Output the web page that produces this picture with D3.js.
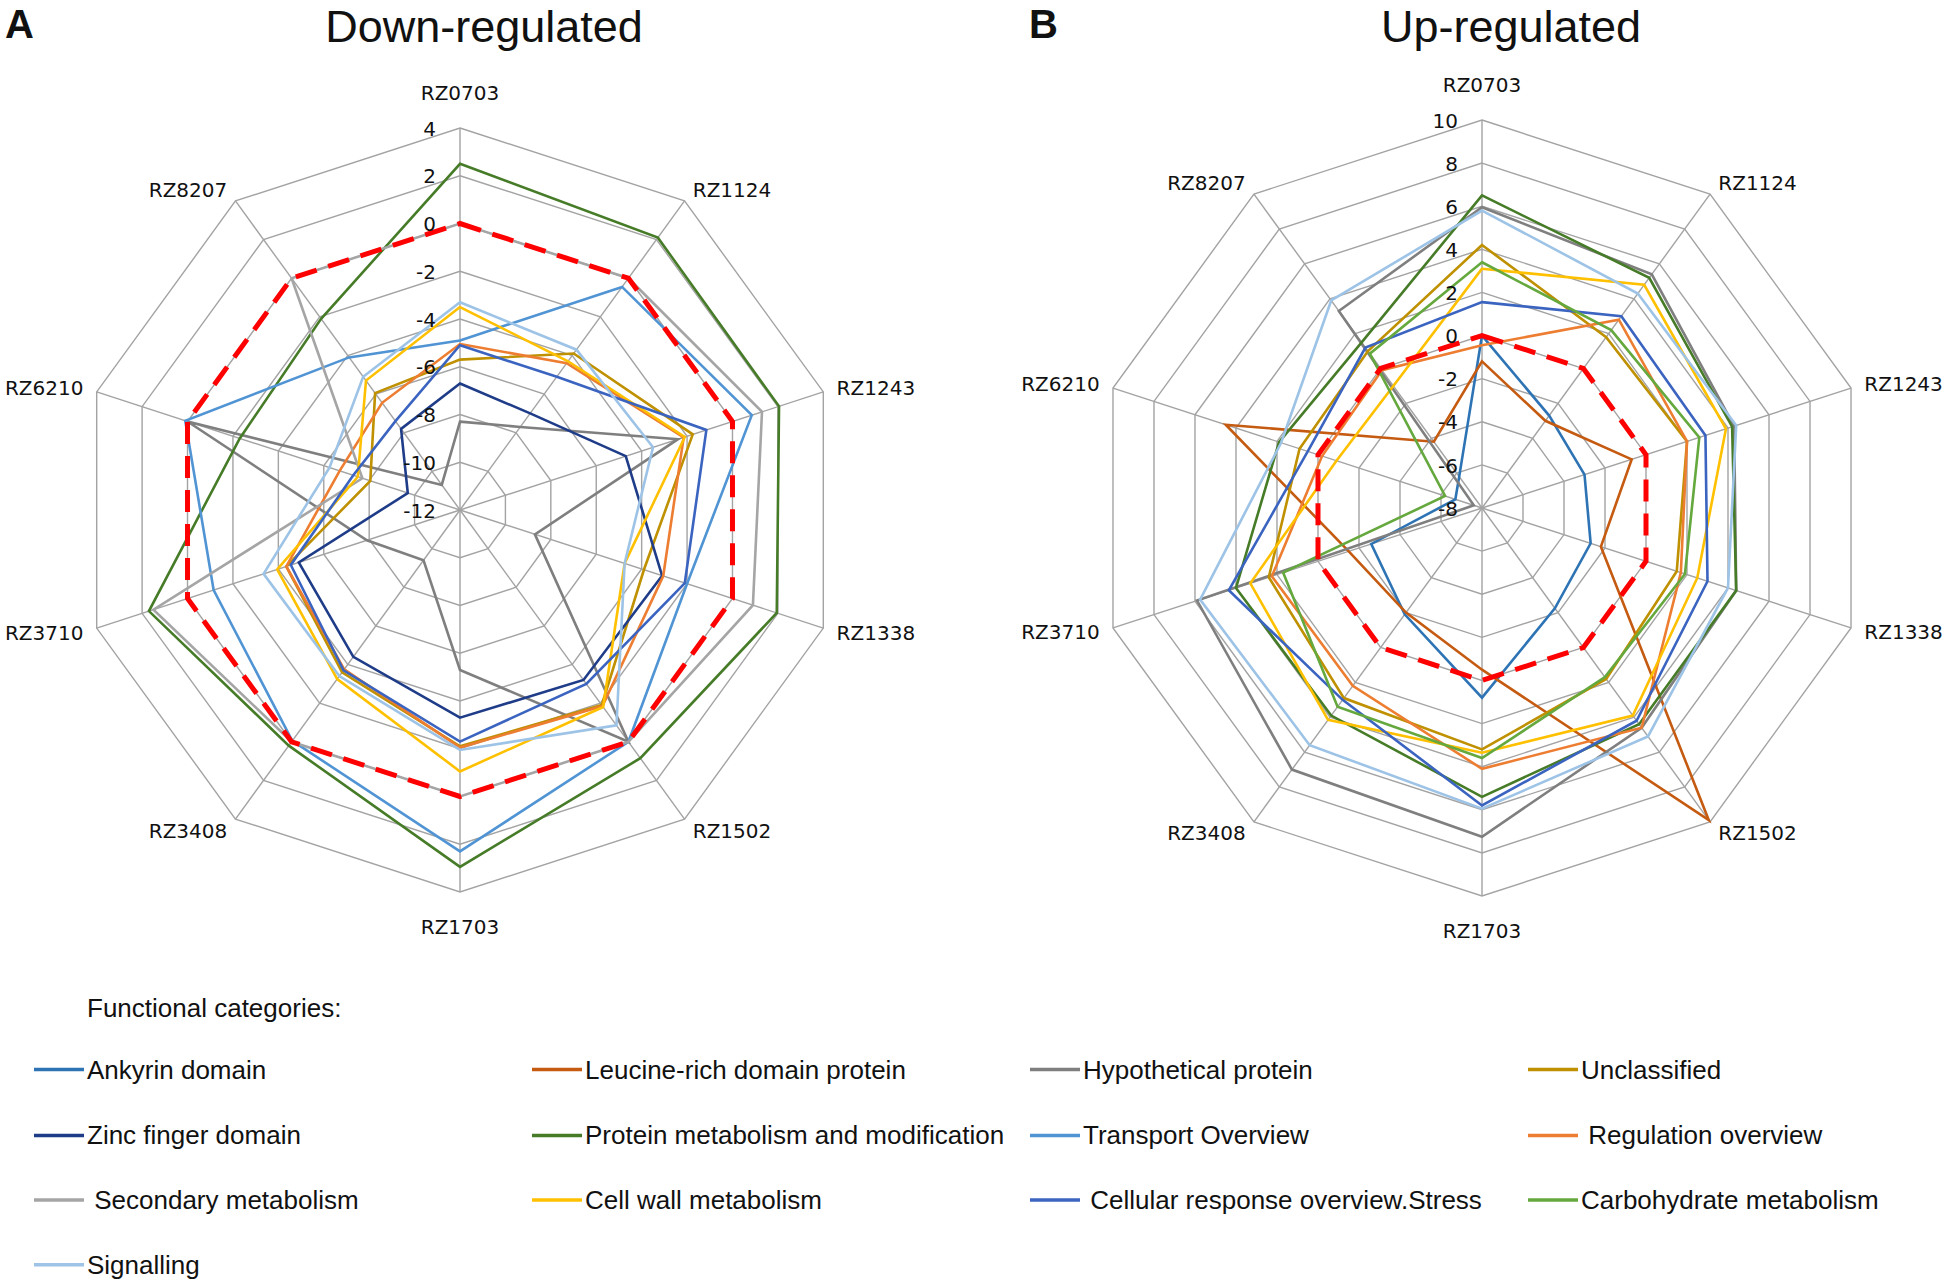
<!DOCTYPE html>
<html><head><meta charset="utf-8">
<script src="https://cdn.jsdelivr.net/npm/d3@7"></script>
<style>
body{margin:0;background:#fff;}
svg text{font-family:"Liberation Sans",Arial,sans-serif;fill:#111;}
.ax text{font-family:"DejaVu Sans",sans-serif;}
</style>
</head><body>
<svg id="chart" width="1950" height="1282"></svg>
<script>
// ---------- DATA ----------
const axesLabels = ["RZ0703","RZ1124","RZ1243","RZ1338","RZ1502","RZ1703","RZ3408","RZ3710","RZ6210","RZ8207"];
const categories = ["Ankyrin domain","Leucine-rich domain protein","Hypothetical protein","Unclassified",
  "Zinc finger domain","Protein metabolism and modification","Transport Overview"," Regulation overview",
  " Secondary metabolism","Cell wall metabolism"," Cellular response overview.Stress","Carbohydrate metabolism","Signalling"];
const colors = ["#2E74B5","#C55A11","#7F7F7F","#BF9000","#1F3C88","#467B27","#5094D4","#ED7D31",
  "#A5A5A5","#FFC000","#3B64C0","#65A83E","#9DC3E6"];
const downTicks = [-12,-10,-8,-6,-4,-2,0,2,4];
const upTicks = [-8,-6,-4,-2,0,2,4,6,8,10];

// Down-regulated (panel A)
const downAnkyrin      = null;
const downLeucine      = null;
const downHypothetical = [-8.3,-7.7,-2.4,-8.7,0,-5.3,-9.4,-7.9,0,-10.7];
const downUnclassified = [-5.7,-3.9,-1.75,-3.9,-1.9,-2.1,-3.6,-4.35,-8.05,-5.95];
const downZinc         = [-6.7,-7.0,-4.7,-3.1,-3.2,-3.3,-4.4,-4.9,-9.7,-7.8];
const downProtein      = [2.5,2.1,2.05,1.95,0.85,2.95,0.2,1.7,-2.3,-2.1];
const downTransport    = [-4.9,-0.45,0.85,-2.0,0.0,2.3,-0.05,-1.15,0.1,-4.1];
const downRegulation   = [-5.05,-4.4,-2.15,-3.05,-1.85,-2.05,-3.75,-4.35,-6.7,-6.45];
const downSecondary    = [0,0,1.3,0.9,0,0,0,1.5,-7.7,0];
const downCellWall     = [-3.5,-4.3,-2.1,-4.75,-1.8,-1.05,-3.25,-3.95,-7.5,-5.3];
const downCellular     = [-5.1,-5.1,-1.15,-2.1,-3.0,-2.3,-3.7,-4.55,-7.3,-7.4];
const downCarbohydrate = null;
const downSignalling   = [-3.3,-3.7,-3.5,-4.75,-0.85,-1.95,-3.4,-3.35,-6.25,-5.1];
const downZero         = [0,0,0,0,0,0,0,0,0,0];

// Up-regulated (panel B)
const upAnkyrin      = [0.0,-2.7,-3.0,-2.7,-2.25,0.8,-1.9,-2.6,-6.7,-6.2];
const upLeucine      = [-1.2,-3.0,-0.7,-2.2,9.9,-0.5,-2.0,-1.5,4.5,-4.2];
const upHypothetical = [5.95,5.4,4.3,4.4,4.6,7.25,7.0,5.9,-7.6,3.3];
const upUnclassified = [4.2,1.8,2.0,1.5,1.8,3.2,2.9,2.4,0.9,1.0];
const upZinc         = null;
const upProtein      = [6.5,5.2,4.2,4.4,4.4,5.4,3.9,4.0,1.9,1.5];
const upTransport    = null;
const upRegulation   = [-0.45,2.8,2.0,1.7,4.6,4.1,2.2,2.25,-0.2,-0.1];
const upSecondary    = null;
const upCellWall     = [3.1,4.8,3.9,2.5,3.9,3.35,4.15,3.3,-0.9,-1.0];
const upCellular     = [1.55,3.0,2.9,3.0,4.2,5.8,3.0,4.35,0.5,1.2];
const upCarbohydrate = [3.4,2.2,2.6,1.9,1.7,3.6,3.4,1.7,-6.2,0.85];
const upSignalling   = [5.8,4.3,4.4,4.0,5.1,5.95,5.6,5.75,1.8,3.9];
const upZero         = [0,0,0,0,0,0,0,0,0,0];

const downSeries = [downAnkyrin,downLeucine,downHypothetical,downUnclassified,downZinc,downProtein,
  downTransport,downRegulation,downSecondary,downCellWall,downCellular,downCarbohydrate,downSignalling];
const upSeries = [upAnkyrin,upLeucine,upHypothetical,upUnclassified,upZinc,upProtein,
  upTransport,upRegulation,upSecondary,upCellWall,upCellular,upCarbohydrate,upSignalling];

// ---------- DRAW ----------
const svg = d3.select("#chart");
svg.append("rect").attr("width",1950).attr("height",1282).attr("fill","#fff");

function radar(cfg){
  const g = svg.append("g").attr("class","ax").attr("transform",`translate(${cfg.cx},${cfg.cy})`);
  const n = axesLabels.length;
  const ang = d3.scaleLinear().domain([0,n]).range([0,2*Math.PI]);
  const r = d3.scaleLinear().domain(d3.extent(cfg.ticks)).range([0,cfg.R]);
  const pt = (i,v)=>[Math.sin(ang(i))*r(v), -Math.cos(ang(i))*r(v)];
  // rings
  cfg.ticks.forEach(t=>{
    g.append("path").attr("d", d3.line()(d3.range(n).map(i=>pt(i,t)))+"Z")
      .attr("fill","none").attr("stroke","#a3a3a3").attr("stroke-width",1.4);
  });
  // spokes
  const tmax = d3.max(cfg.ticks);
  d3.range(n).forEach(i=>{
    const [x,y]=pt(i,tmax);
    g.append("line").attr("x1",0).attr("y1",0).attr("x2",x).attr("y2",y)
      .attr("stroke","#a3a3a3").attr("stroke-width",1.4);
  });
  // series
  const line = d3.lineRadial().angle((d,i)=>ang(i)).radius(d=>r(d)).curve(d3.curveLinearClosed);
  cfg.series.forEach((s,k)=>{
    if(!s) return;
    g.append("path").attr("d",line(s)).attr("fill","none")
      .attr("stroke",colors[k]).attr("stroke-width",2.6).attr("stroke-linejoin","miter");
  });
  g.append("path").attr("d",line(cfg.zero)).attr("fill","none")
    .attr("stroke","#ff0000").attr("stroke-width",5).attr("stroke-dasharray","22,12");
  // tick labels
  cfg.ticks.forEach(t=>{
    g.append("text").attr("x",-24).attr("y",-r(t)).attr("dy","0.38em")
      .attr("text-anchor","end").attr("font-size",20).text(t);
  });
  // axis labels
  axesLabels.forEach((lab,i)=>{
    const a = ang(i), s=Math.sin(a), c=Math.cos(a);
    const vert = Math.abs(s)<0.1;
    const d = vert ? 35 : 14;
    g.append("text").attr("x",s*(cfg.R+d)).attr("y",-c*(cfg.R+d)).attr("dy","0.36em")
      .attr("text-anchor", vert?"middle":(s>0?"start":"end"))
      .attr("font-size",20).text(lab);
  });
}

radar({cx:460, cy:510, R:382, ticks:downTicks, series:downSeries, zero:downZero});
radar({cx:1482, cy:508, R:388, ticks:upTicks, series:upSeries, zero:upZero});

// titles
svg.append("text").attr("x",484).attr("y",42).attr("text-anchor","middle").attr("font-size",45).text("Down-regulated");
svg.append("text").attr("x",1511).attr("y",42).attr("text-anchor","middle").attr("font-size",45).text("Up-regulated");
svg.append("text").attr("x",5).attr("y",38).attr("font-size",40).attr("font-weight","bold").text("A");
svg.append("text").attr("x",1029).attr("y",38).attr("font-size",40).attr("font-weight","bold").text("B");

// legend
svg.append("text").attr("x",87).attr("y",1017).attr("font-size",26).text("Functional categories:");
const colX = [34,532,1030,1528];
const rowY = [1069.5,1135.4,1200,1264.8];
categories.forEach((name,k)=>{
  const x = colX[k%4], y = rowY[Math.floor(k/4)];
  svg.append("line").attr("x1",x).attr("x2",x+50).attr("y1",y).attr("y2",y)
    .attr("stroke",colors[k]).attr("stroke-width",3.5);
  svg.append("text").attr("x",x+53).attr("y",y+9).attr("font-size",26)
    .style("white-space","pre").text(name);
});
</script>
</body></html>
